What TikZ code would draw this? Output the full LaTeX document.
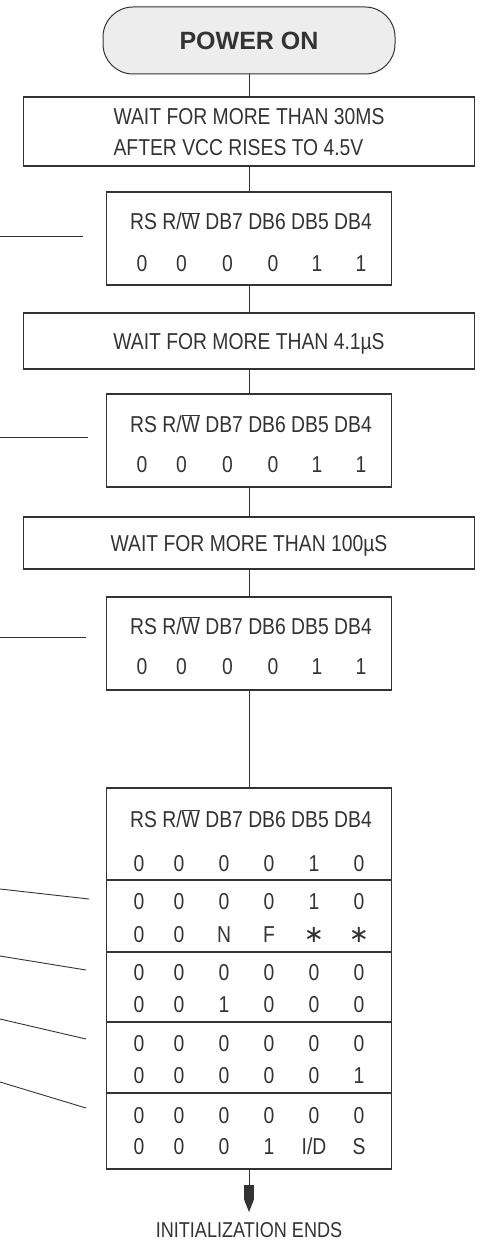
\documentclass[tikz,border=0pt]{standalone}
\usepackage{fontspec}
\setmainfont{Liberation Sans}[FakeStretch=0.84]
\newfontfamily\titlefont{Liberation Sans}
\newfontfamily\symbfont{DejaVu Sans}
\usetikzlibrary{positioning, arrows.meta, calc}

\definecolor{ink}{HTML}{333333}
\definecolor{pwrfill}{HTML}{EDEDED}

\tikzset{
  terminal/.style={draw=ink, fill=pwrfill, line width=1pt, rounded corners=30pt,
    minimum width=292pt, minimum height=67pt, inner sep=0pt, outer sep=0pt},
  waitbox/.style={draw=ink, line width=1.4pt, minimum width=451pt, inner sep=0pt,
    outer sep=0pt, align=left, text depth=0pt},
  regbox/.style={draw=ink, line width=1.4pt, minimum width=285pt, minimum height=93pt,
    inner sep=0pt, outer sep=0pt},
  bit/.style={anchor=base, inner sep=0pt},
  link/.style={draw=ink, line width=1pt},
  lead/.style={draw=ink, line width=0.9pt},
  rowline/.style={draw=ink, line width=1.2pt},
}

% column offsets of the bit columns from the box centre
\def\colx{{-107,-67.5,-21.5,24,68,112}}
\newcommand{\bithead}[2]{%
  \node[bit] (#1-head) at ([xshift=2pt,yshift=-#2pt]#1.north)
    {RS R/$\overline{\hbox{W}}$ DB7 DB6 DB5 DB4};}
\newcommand{\bitrow}[3]{%
  \foreach \v [count=\i] in {#3} {
    \pgfmathsetmacro{\cx}{\colx[\i-1]}
    \node[bit] (#1-#2-\i) at ([xshift=\cx pt,yshift=-#2pt]#1.north) {\v};
  }}
\newcommand{\starmark}{{\symbfont\fontsize{24}{24}\selectfont ∗}}

\begin{document}
\begin{tikzpicture}[x=1pt, y=-1pt, font=\fontsize{23}{31}\selectfont, text=ink]
  \useasboundingbox (0,0) rectangle (479,1241);

  \node[terminal] (pwr) at (249,40.5) {\titlefont\bfseries\fontsize{25}{25}\selectfont POWER ON};
  \node[waitbox, minimum height=69pt, below=23pt of pwr] (w1)
    {WAIT FOR MORE THAN 30MS\\AFTER VCC RISES TO 4.5V};
  \node[regbox, below=26pt of w1] (r1) {};
  \node[waitbox, minimum height=56pt, below=28pt of r1] (w2) {WAIT FOR MORE THAN 4.1µS};
  \node[regbox, below=25pt of w2] (r2) {};
  \node[waitbox, minimum height=52pt, below=30pt of r2] (w3) {WAIT FOR MORE THAN 100µS};
  \node[regbox, below=28pt of w3] (r3) {};
  \node[regbox, minimum height=381pt, below=98pt of r3] (t4) {};

  \bithead{r1}{38}
  \bitrow{r1}{79}{0,0,0,0,1,1}
  \bithead{r2}{38}
  \bitrow{r2}{78}{0,0,0,0,1,1}
  \bithead{r3}{37}
  \bitrow{r3}{77}{0,0,0,0,1,1}

  % the long table
  \def\colx{{-110,-70,-25,20,65,110}}
  \bithead{t4}{39}
  \bitrow{t4}{83}{0,0,0,0,1,0}
  \bitrow{t4}{121}{0,0,0,0,1,0}
  \bitrow{t4}{154}{0,0,N,F,\starmark,\starmark}
  \bitrow{t4}{192}{0,0,0,0,0,0}
  \bitrow{t4}{224}{0,0,1,0,0,0}
  \bitrow{t4}{263}{0,0,0,0,0,0}
  \bitrow{t4}{295}{0,0,0,0,0,1}
  \bitrow{t4}{335}{0,0,0,0,0,0}
  \bitrow{t4}{366}{0,0,0,1,I/D,S}
  \foreach \s in {92,164,234,305}
    \draw[rowline] ([yshift=-\s pt]t4.north west) -- ([yshift=-\s pt]t4.north east);

  \draw[link] (pwr) -- (w1);
  \draw[link] (w1) -- (r1);
  \draw[link] (r1) -- (w2);
  \draw[link] (w2) -- (r2);
  \draw[link] (r2) -- (w3);
  \draw[link] (w3) -- (r3);
  \draw[link] (r3) -- (t4);

  \coordinate[below=43pt of t4.south] (fin);
  \draw[link, -{Rectangle[length=14pt,width=10pt,sep=0pt]Triangle[length=13pt,width=10pt]}, fill=ink]
    (t4.south) -- (fin);
  \node[inner sep=0pt, below=10pt of fin, font=\fontsize{21.5}{21.5}\selectfont] (ends) {INITIALIZATION ENDS};

  % leaders to the notes on the left
  \coordinate (n1a) at (0,236);  \coordinate (n1b) at (83,236);
  \coordinate (n2a) at (0,437);  \coordinate (n2b) at (88,437);
  \coordinate (n3a) at (0,637);  \coordinate (n3b) at (86,637);
  \coordinate (n4a) at (0,889);  \coordinate (n4b) at (89,899);
  \coordinate (n5a) at (0,956);  \coordinate (n5b) at (86,970);
  \coordinate (n6a) at (0,1019); \coordinate (n6b) at (86,1039);
  \coordinate (n7a) at (0,1082); \coordinate (n7b) at (86,1108);
  \foreach \k in {1,...,7}
    \draw[lead] (n\k a) -- (n\k b);
\end{tikzpicture}
\end{document}
